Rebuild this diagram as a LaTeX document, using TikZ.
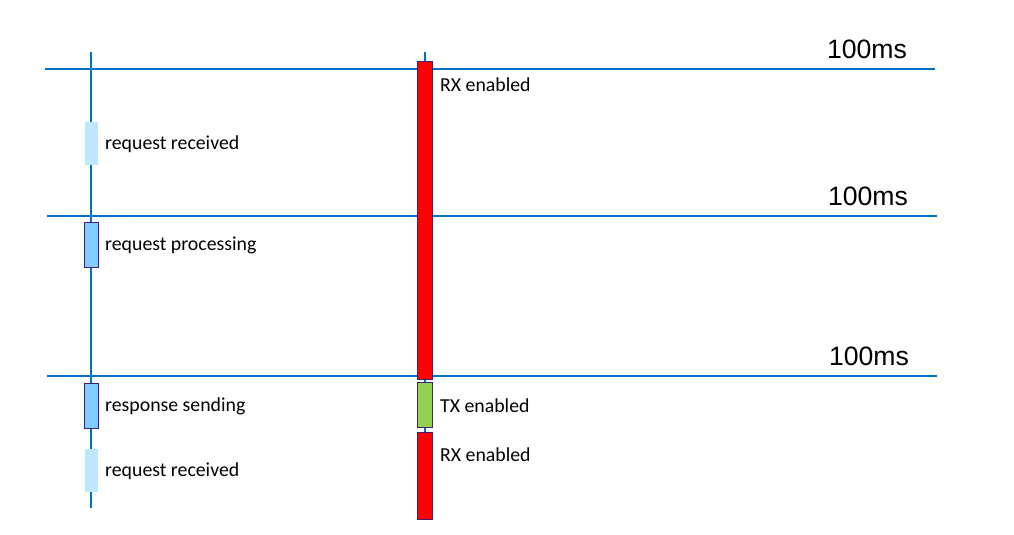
\documentclass[tikz,border=0pt]{standalone}
\usepackage{fontspec}
\setmainfont{Carlito}
\newfontfamily\arialfont{Liberation Sans}
\definecolor{lineblue}{RGB}{0,112,192}
\definecolor{lightbox}{RGB}{190,230,252}
\definecolor{midbox}{RGB}{128,204,255}
\definecolor{boxedge}{RGB}{64,32,112}
\definecolor{rxred}{RGB}{255,0,0}
\definecolor{txgreen}{RGB}{146,208,80}
\begin{document}
\begin{tikzpicture}[x=1pt,y=-1pt,
  lifeline/.style={draw=lineblue,line width=1.4pt},
  tickline/.style={draw=lineblue,line width=1.4pt},
  lightbar/.style={fill=lightbox,draw=none,minimum width=13pt,inner sep=0pt},
  midbar/.style={fill=midbox,draw=boxedge,line width=1pt,minimum width=14pt,inner sep=0pt},
  rxbar/.style={fill=rxred,draw=boxedge,line width=1pt,minimum width=15pt,inner sep=0pt},
  txbar/.style={fill=txgreen,draw=boxedge,line width=1pt,minimum width=15pt,inner sep=0pt},
  lbl/.style={anchor=west,inner sep=0pt,font=\fontsize{19.8}{23}\selectfont},
  mslbl/.style={anchor=center,inner sep=0pt,font=\arialfont\fontsize{26.6}{31}\selectfont}
]
\useasboundingbox (0,0) rectangle (1014,535);
% lifelines
\coordinate (lt) at (91,52);
\coordinate (lb) at (91,508);
\coordinate (mt) at (425,52);
\coordinate (mb) at (425,519);
\draw[lifeline] (lt) -- (lb);
\draw[lifeline] (mt) -- (mb);
% time lines
\coordinate (h1a) at (45,69);  \coordinate (h1b) at (935,69);
\coordinate (h2a) at (47,216); \coordinate (h2b) at (937,216);
\coordinate (h3a) at (47,376); \coordinate (h3b) at (937,376);
\draw[tickline] (h1a) -- (h1b);
\draw[tickline] (h2a) -- (h2b);
\draw[tickline] (h3a) -- (h3b);
\node[mslbl] (ms1) at (867,49) {100ms};
\node[mslbl] (ms2) at (868,196) {100ms};
\node[mslbl] (ms3) at (869,356) {100ms};
% left boxes
\node[lightbar,minimum height=43pt] (rr1) at (91.5,143.5) {};
\node[midbar,minimum height=45pt] (rp) at (91,244.5) {};
\node[midbar,minimum height=45pt] (rs) at (91,405.5) {};
\node[lightbar,minimum height=43pt] (rr2) at (91.5,470.5) {};
\node[lbl] (trr1) at (105,144) {request received};
\node[lbl] (trp) at (105,245) {request processing};
\node[lbl] (trs) at (105,406) {response sending};
\node[lbl] (trr2) at (105,471) {request received};
% middle bars
\node[rxbar,minimum height=317pt] (rx1) at (424.5,220.5) {};
\node[txbar,minimum height=45pt] (tx) at (424.5,404.5) {};
\node[rxbar,minimum height=87pt] (rx2) at (424.5,475.5) {};
\node[lbl] (trx1) at (440,85) {RX enabled};
\node[lbl] (ttx) at (440,406) {TX enabled};
\node[lbl] (trx2) at (440,455) {RX enabled};
\end{tikzpicture}
\end{document}
